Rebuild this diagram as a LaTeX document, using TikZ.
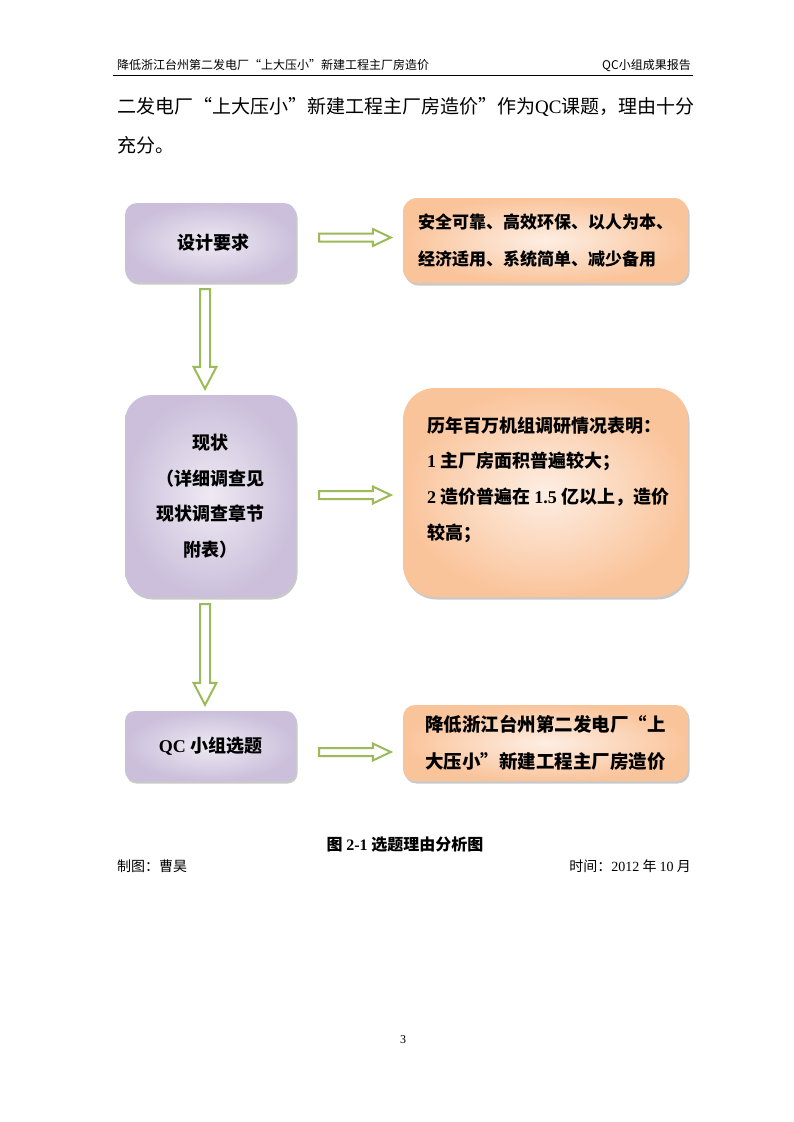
\documentclass[tikz,border=0pt]{standalone}
\usepackage{fontspec}
\setmainfont{Noto Sans CJK SC}
\newfontfamily\tnr{Liberation Serif}
\usetikzlibrary{calc}
\usetikzlibrary{shadows}
\definecolor{arrowgreen}{HTML}{9BBB59}
\definecolor{lilacin}{HTML}{EEEAF3}
\definecolor{lilacout}{HTML}{CBBFDB}
\definecolor{peachin}{HTML}{FDEEE3}
\definecolor{peachout}{HTML}{FAC49B}

\tikzset{
  boxshadow/.style={drop shadow={shadow xshift=1.5pt,shadow yshift=-2.5pt,opacity=0.35,fill=black!60}},
  purplebox/.style={inner color=lilacin,outer color=lilacout,boxshadow,
    minimum width=171pt,align=center,font=\fontsize{18}{35.5}\selectfont\bfseries},
  orangebox/.style={inner color=peachin,outer color=peachout,boxshadow,
    minimum width=285pt,align=left},
  blockarrow/.style={draw=arrowgreen,line width=2pt,fill=white,line join=miter},
  headtext/.style={font=\fontsize{12}{14}\selectfont,inner sep=0pt},
  pagetext/.style={font=\fontsize{14}{16}\selectfont,inner sep=0pt},
}

% hollow block arrows between two named boxes
\newcommand{\rightblock}[3]{%
  \draw[blockarrow] let \p1=($(#1.east)+(0,#3)$), \p2=(#2.west) in
    (\x1+23pt,\y1+4pt) -- (\x2-30pt,\y1+4pt) -- (\x2-30pt,\y1+8.5pt)
    -- (\x2-12pt,\y1) -- (\x2-30pt,\y1-8.5pt) -- (\x2-30pt,\y1-4pt)
    -- (\x1+23pt,\y1-4pt) -- cycle;}
\newcommand{\downblock}[2]{%
  \draw[blockarrow] let \p1=($(#1.south)+(-5.5,0)$), \p2=($(#2.north)+(-5.5,0)$) in
    (\x1-5pt,\y1-7pt) -- (\x1-5pt,\y2+28pt) -- (\x1-11.5pt,\y2+28pt)
    -- (\x1,\y2+6pt) -- (\x1+11.5pt,\y2+28pt) -- (\x1+5pt,\y2+28pt)
    -- (\x1+5pt,\y1-7pt) -- cycle;}

\begin{document}
\begin{tikzpicture}[x=1pt,y=-1pt]
  \useasboundingbox[fill=white] (0,0) rectangle (793,1122);

  % page header
  \node[headtext,anchor=base west] (headl) at (117,69) {降低浙江台州第二发电厂“上大压小”新建工程主厂房造价};
  \node[headtext,anchor=base east] (headr) at (691,69) {QC小组成果报告};
  \draw[line width=0.8pt] (113,75) -- (693,75);

  % running text
  \node[anchor=west,inner sep=0pt,align=left,font=\fontsize{19}{38.5}\selectfont] (body) at (117,125.5)
    {二发电厂“上大压小”新建工程主厂房造价”作为{\tnr QC}课题，理由十分\\充分。};

  % left column
  \node[purplebox,minimum height=79pt,rounded corners=12pt] (req) at (210.5,242.5) {\hspace*{6pt}设计要求};
  \node[purplebox,minimum height=202pt,rounded corners=26pt] (now) at (210.5,496)
    {现状\\（详细调查见\\现状调查章节\\附表）};
  \node[purplebox,minimum height=70pt,rounded corners=10pt] (qc) at (210.5,746) {{\tnr QC} 小组选题};

  % right column
  \node[orangebox,minimum height=85pt,rounded corners=14pt,
    font=\fontsize{17}{37}\selectfont\bfseries] (demand) at (545.5,240.5)
    {安全可靠、高效环保、以人为本、\\经济适用、系统简单、减少备用};
  \node[orangebox,minimum height=209pt,rounded corners=32pt] (survey) at (545.5,492.5) {};
  \node[anchor=west,inner sep=0pt,align=left,font=\fontsize{18}{35.7}\selectfont\bfseries] (surveytext) at (427,479.5)
    {历年百万机组调研情况表明：\\{\tnr 1} 主厂房面积普遍较大；\\{\tnr 2} 造价普遍在 {\tnr 1.5} 亿以上，造价\\较高；};
  \node[orangebox,minimum height=76pt,rounded corners=12pt,
    font=\fontsize{18.5}{37}\selectfont\bfseries] (topic) at (545.5,743)
    {降低浙江台州第二发电厂“上\\大压小”新建工程主厂房造价};

  % arrows
  \rightblock{req}{demand}{-5}
  \rightblock{now}{survey}{-1}
  \rightblock{qc}{topic}{6}
  \downblock{req}{now}
  \downblock{now}{qc}

  % caption and notes
  \node[font=\fontsize{16}{18}\selectfont\bfseries,inner sep=0pt] (caption) at (405,845) {图 {\tnr 2-1} 选题理由分析图};
  \node[pagetext,anchor=west] (maker) at (117,866) {制图：曹昊};
  \node[pagetext,anchor=east] (date) at (691,866) {时间：{\tnr 2012} 年 {\tnr 10} 月};
  \node[headtext] (pageno) at (403,1040) {\tnr 3};
\end{tikzpicture}
\end{document}
